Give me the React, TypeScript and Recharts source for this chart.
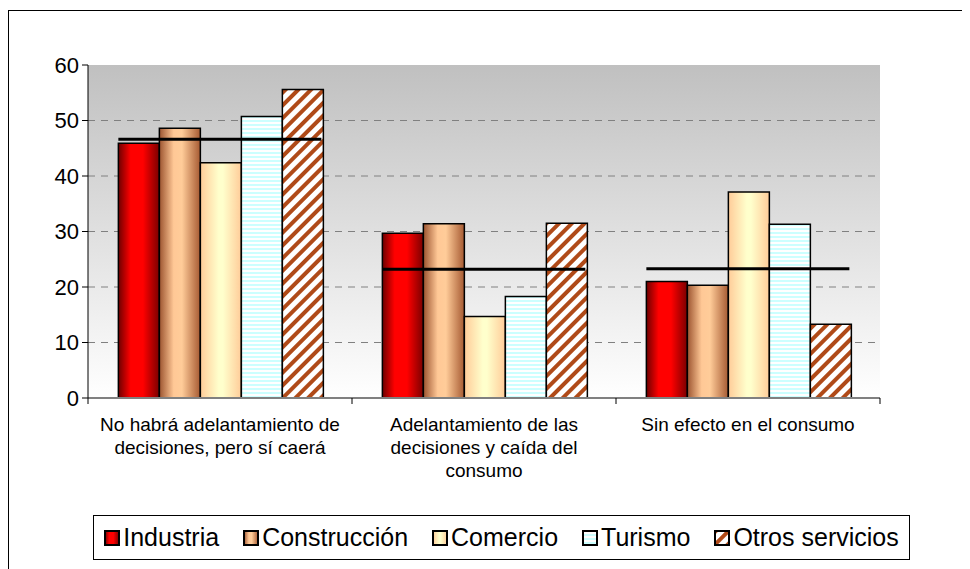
import React from 'react';
import { BarChart, Bar, XAxis, YAxis, CartesianGrid, Legend } from 'recharts';

const categories = [
  'No habrá adelantamiento de\ndecisiones, pero sí caerá',
  'Adelantamiento de las\ndecisiones y caída del\nconsumo',
  'Sin efecto en el consumo',
];
const industria = [45.9, 29.7, 21.0];
const construccion = [48.6, 31.4, 20.3];
const comercio = [42.4, 14.7, 37.1];
const turismo = [50.7, 18.3, 31.3];
const otrosServicios = [55.6, 31.5, 13.3];
const total = [46.6, 23.2, 23.3];
const yTicks = [0, 10, 20, 30, 40, 50, 60];

const series = [
  { key: 'industria', name: 'Industria', fill: 'url(#gIndustria)' },
  { key: 'construccion', name: 'Construcción', fill: 'url(#gConstruccion)' },
  { key: 'comercio', name: 'Comercio', fill: 'url(#gComercio)' },
  { key: 'turismo', name: 'Turismo', fill: 'url(#pTurismo)' },
  { key: 'otros', name: 'Otros servicios', fill: 'url(#pOtros)' },
];

const data = categories.map((category, i) => ({
  category,
  industria: industria[i],
  construccion: construccion[i],
  comercio: comercio[i],
  turismo: turismo[i],
  otros: otrosServicios[i],
  total: total[i],
}));

const W = 962;
const H = 561;
const M = { top: 57, right: 90, left: 0, bottom: 131 };
const Y_W = 80;
const halfBand = (W - M.left - M.right - Y_W) / categories.length / 2;
const FONT = '"Liberation Sans", Arial, sans-serif';

const CategoryTick = (props: any) => {
  const { x, y, payload, index } = props;
  const lines = String(payload.value).split('\n');
  return (
    <g>
      <line x1={x - halfBand} x2={x - halfBand} y1={y} y2={y + 6} stroke="#000" />
      {index === categories.length - 1 && (
        <line x1={x + halfBand} x2={x + halfBand} y1={y} y2={y + 6} stroke="#000" />
      )}
      <text x={x} y={y + 33} textAnchor="middle" fontSize={19} fontFamily={FONT} fill="#000">
        {lines.map((l, i) => (
          <tspan key={i} x={x} dy={i === 0 ? 0 : 23}>{l}</tspan>
        ))}
      </text>
    </g>
  );
};

const AvgLine = (props: any) => {
  const { x, y, width } = props;
  return <line x1={x} x2={x + width} y1={y} y2={y} stroke="#000" strokeWidth={3} />;
};

const LegendBox = () => (
  <div
    style={{
      border: '1px solid #000',
      background: '#fff',
      height: '100%',
      boxSizing: 'border-box',
      display: 'flex',
      alignItems: 'center',
      justifyContent: 'center',
      gap: 24,
      fontFamily: FONT,
      fontSize: 25,
      color: '#000',
    }}
  >
    {series.map((s) => (
      <span key={s.key} style={{ display: 'flex', alignItems: 'center', gap: 3 }}>
        <svg width={16} height={16}>
          <rect x={1} y={1} width={14} height={14} fill={s.fill} stroke="#000" strokeWidth={2} />
        </svg>
        {s.name}
      </span>
    ))}
  </div>
);

export default function App() {
  return (
    <div style={{ position: 'relative', width: W, height: H, background: '#fff' }}>
      <style>{'body{overflow:hidden}'}</style>
      <div
        style={{
          position: 'absolute',
          left: 0,
          top: 2,
          width: 1000,
          height: 600,
          border: '1px solid #000',
          pointerEvents: 'none',
        }}
      />
      <BarChart
        width={W}
        height={H}
        data={data}
        margin={M}
        barCategoryGap="11.5%"
        barGap={0}
        style={{ position: 'absolute', left: 0, top: 0 }}
      >
        <defs>
          <linearGradient id="gPlot" x1="0" y1="0" x2="0" y2="1">
            <stop offset="0" stopColor="#c0c0c0" />
            <stop offset="1" stopColor="#ffffff" />
          </linearGradient>
          <linearGradient id="gIndustria" x1="0" y1="0" x2="1" y2="0">
            <stop offset="0" stopColor="#6e0000" />
            <stop offset="0.3" stopColor="#ff0000" />
            <stop offset="0.6" stopColor="#ff0000" />
            <stop offset="1" stopColor="#7a0000" />
          </linearGradient>
          <linearGradient id="gConstruccion" x1="0" y1="0" x2="1" y2="0">
            <stop offset="0" stopColor="#9c5430" />
            <stop offset="0.35" stopColor="#ffc896" />
            <stop offset="0.55" stopColor="#ffcc99" />
            <stop offset="1" stopColor="#a65a32" />
          </linearGradient>
          <linearGradient id="gComercio" x1="0" y1="0" x2="1" y2="0">
            <stop offset="0" stopColor="#ffcc99" />
            <stop offset="0.45" stopColor="#ffffcc" />
            <stop offset="0.55" stopColor="#ffffcc" />
            <stop offset="1" stopColor="#ffcc99" />
          </linearGradient>
          <pattern id="pTurismo" width={4} height={4} patternUnits="userSpaceOnUse">
            <rect width={4} height={4} fill="#ffffff" />
            <rect width={4} height={2} fill="#ccffff" />
          </pattern>
          <pattern id="pOtros" width={9} height={9} patternUnits="userSpaceOnUse" patternTransform="rotate(45)">
            <rect width={9} height={9} fill="#ffffff" />
            <rect width={4} height={9} fill="#b04a18" />
          </pattern>
        </defs>
        <CartesianGrid
          vertical={false}
          horizontalValues={[10, 20, 30, 40, 50]}
          stroke="#808080"
          strokeDasharray="7 6"
          fill="url(#gPlot)"
          fillOpacity={1}
        />
        <XAxis
          dataKey="category"
          interval={0}
          tickLine={false}
          tickSize={0}
          tickMargin={0}
          height={40}
          axisLine={{ stroke: '#808080', strokeWidth: 2 }}
          tick={<CategoryTick />}
        />
        <XAxis xAxisId="avg" dataKey="category" hide />
        <YAxis
          width={Y_W}
          domain={[0, 60]}
          ticks={yTicks}
          interval={0}
          tickSize={6}
          tickMargin={3}
          axisLine={{ stroke: '#000' }}
          tickLine={{ stroke: '#000' }}
          tick={{ fontSize: 22, fontFamily: FONT, fill: '#000' }}
        />
        <YAxis
          yAxisId="right"
          orientation="right"
          width={0}
          domain={[0, 60]}
          tick={false}
          tickLine={false}
          axisLine={{ stroke: '#808080', strokeWidth: 2 }}
        />
        {series.map((s) => (
          <Bar
            key={s.key}
            dataKey={s.key}
            name={s.name}
            fill={s.fill}
            stroke="#000"
            strokeWidth={1.5}
            isAnimationActive={false}
          />
        ))}
        <Bar
          dataKey="total"
          xAxisId="avg"
          legendType="none"
          shape={<AvgLine />}
          isAnimationActive={false}
        />
        <Legend
          layout="horizontal"
          verticalAlign="middle"
          align="center"
          content={<LegendBox />}
          wrapperStyle={{ top: 507, left: 85, width: 817, height: 45 }}
        />
      </BarChart>
    </div>
  );
}
